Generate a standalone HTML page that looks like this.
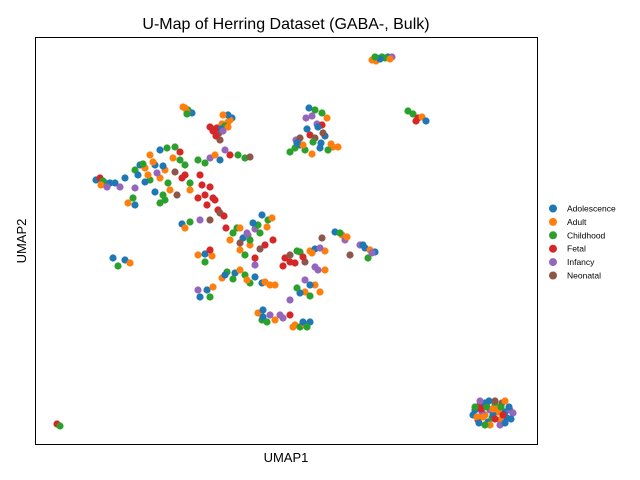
<!DOCTYPE html>
<html><head><meta charset="utf-8"><style>
body{margin:0;background:#fff;}
svg{display:block;font-family:"Liberation Sans","DejaVu Sans",sans-serif;}
</style></head><body>
<svg id="chart" width="640" height="480" viewBox="0 0 640 480">
<rect x="0" y="0" width="640" height="480" fill="#fff"/>
<text x="286" y="29" font-size="16" text-anchor="middle" fill="#000">U-Map of Herring Dataset (GABA-, Bulk)</text>
<g id="points"></g>
<rect x="35.5" y="37.5" width="502" height="407" fill="none" stroke="#000" stroke-width="1"/>
<text x="286" y="462" font-size="13" text-anchor="middle">UMAP1</text>
<text x="26" y="241" font-size="13" text-anchor="middle" transform="rotate(-90 26 241)">UMAP2</text>
<g id="legend"></g>
</svg>
<script>
const categories=["Adolescence","Adult","Childhood","Fetal","Infancy","Neonatal"];
const colors=["#1f77b4","#ff7f0e","#2ca02c","#d62728","#9467bd","#8c564b"];
// points: [umap1, umap2, categoryIndex]
const points=[
[337,385,1],[342,387,0],[347,388,2],[353,388,0],[357,388,4],[341,384,1],[350,387,2],[345,386,0],[340,388,2],[355,386,1],
[373,334,2],[378,331,2],[383,327,3],[387,328,1],[391,324,0],[381,324,3],
[148,338,1],[153,335,2],[157,332,0],[150,337,1],[175,318,3],[182,317,3],[187,321,1],[193,323,1],[197,327,0],[190,319,2],[195,325,1],[184,312,5],[185,305,5],[181,309,3],
[152,333,1],[193,330,0],[188,330,1],[178,314,3],[186,316,0],[152,331,2],[180,316,3],[193,318,1],[188,314,4],
[274,337,0],[280,335,2],[287,332,2],[292,327,1],[271,327,4],[282,321,4],[287,320,3],[275,310,3],[261,305,4],[265,307,5],[280,307,5],[290,309,0],[260,297,2],[270,295,2],[277,291,1],[285,297,0],[298,298,1],[303,298,1],[293,295,2],[255,293,2],[265,300,0],
[277,329,4],[283,318,0],[272,316,0],[268,300,1],[286,302,0],[296,301,1],[278,303,2],[262,302,0],[288,312,5],
[115,290,1],[125,295,0],[132,297,2],[140,298,2],[145,293,3],[105,280,0],[100,275,2],[110,277,1],[120,280,0],[130,275,1],[140,273,5],[147,267,3],[155,262,2],[115,265,2],[125,267,1],[110,263,0],[100,257,4],[135,255,1],[142,250,5],[130,245,2],[125,242,2],[150,280,2],
[108,281,2],[118,283,1],[128,279,0],[138,287,1],[145,285,2],[122,272,4],[103,270,0],[113,270,1],[133,262,2],[150,270,3],[155,255,1],[120,253,0],[128,250,2],
[163,285,2],[170,282,2],[175,287,4],[185,285,0],[195,290,3],[203,290,2],[210,287,2],[215,288,5],[180,290,1],[190,295,4],
[61,265,0],[65,267,3],[70,262,0],[75,262,0],[80,262,0],[90,267,0],[93,242,1],[98,247,2],[85,258,4],[68,264,2],[66,260,1],[72,258,4],[100,240,0],
[165,270,3],[175,258,3],[178,247,3],[183,235,3],[185,232,5],[189,229,3],[191,217,3],[163,247,3],[170,250,3],[167,260,3],[172,240,3],[180,245,3],
[147,221,0],[155,223,2],[165,225,4],[175,225,5],[150,217,1],
[202,217,2],[208,207,0],[195,205,1],[213,210,4],[220,216,4],[227,230,0],[233,225,2],[237,227,1],[223,220,2],[215,200,1],[210,190,2],[220,187,3],[230,200,3],[205,202,5],
[205,217,1],[218,222,0],[225,212,2],[212,212,4],[232,218,1],[198,212,2],[215,205,2],[205,195,1],[225,196,5],[238,205,3],
[163,190,1],[170,191,0],[177,189,1],[170,183,2],[175,195,3],
[78,187,0],[83,179,2],[90,185,0],[95,182,1],
[187,167,1],[192,173,2],[200,172,0],[205,175,1],[210,170,2],[215,162,2],[227,162,0],[235,160,1],[240,160,1],[220,180,4],
[190,170,0],[198,166,2],[212,165,1],[220,168,0],[230,163,1],
[163,155,4],[165,148,0],[172,155,0],[178,158,1],[175,148,2],
[250,187,3],[255,190,5],[265,193,2],[275,194,1],[280,196,0],[290,194,1],[248,179,3],[260,182,3],[270,183,5],[283,175,4],[290,175,1],[280,160,1],[270,153,1],[275,149,2],[255,145,4],[265,152,0],
[262,194,2],[277,192,1],[285,197,4],[255,183,3],[268,188,3],[280,178,4],[262,157,2],[275,160,0],[285,153,1],[270,165,4],
[300,213,0],[307,210,1],[310,205,4],[315,190,5],[325,200,4],[330,197,0],[335,195,1],[340,193,0],[333,187,2],[287,207,5],
[305,212,2],[312,208,1],[328,200,0],[337,192,4],
[223,132,1],[228,135,0],[235,130,4],[240,125,1],[227,125,2],[248,127,4],[260,120,1],[265,118,2],[270,120,1],[275,123,0],[255,130,3],
[228,128,0],[232,123,2],[245,130,4],[258,118,1],[268,123,0],[272,118,2],
[440,35,0],[445,40,3],[450,30,1],[455,35,4],[460,40,2],[465,25,1],[470,33,0],[475,35,4],[443,25,3],[453,23,0],[463,33,1],[457,27,2],[450,42,0],[467,42,5],[472,27,0],[447,33,4],
[438,30,0],[442,28,1],[446,36,3],[452,38,2],[458,30,0],[462,36,1],[468,30,3],[474,38,0],[478,32,4],[444,22,0],[455,20,1],[465,20,4],[470,22,0],[448,28,1],[460,26,3],[466,38,2],[454,44,0],[460,44,5],[440,38,2],[476,26,0],[450,20,2],[470,44,1],[445,44,4],[458,36,1],
[22,21,3],[25,19,2]
];
const legendSpacing=13.4;
const X0=35,X1=538,Y0=445,Y1=37;
const xMin=0,xMax=503,yMin=0,yMax=408;
function xScale(v){return X0+(v-xMin)/(xMax-xMin)*(X1-X0);}
function yScale(v){return Y0-(v-yMin)/(yMax-yMin)*(Y0-Y1);}
const NS="http://www.w3.org/2000/svg";
const g=document.getElementById('points');
points.forEach((p,i)=>{
  const c=document.createElementNS(NS,'circle');
  c.setAttribute('cx',xScale(p[0]));c.setAttribute('cy',yScale(p[1]));
  c.setAttribute('r',3.6);c.setAttribute('fill',colors[p[2]]);
  
  
  g.appendChild(c);
});
const lg=document.getElementById('legend');
categories.forEach((cat,i)=>{
  const y=208.5+i*legendSpacing;
  const e=document.createElementNS(NS,'g');
  
  
  const c=document.createElementNS(NS,'circle');
  c.setAttribute('cx',553);c.setAttribute('cy',y);c.setAttribute('r',4);c.setAttribute('fill',colors[i]);
  e.appendChild(c);
  const t=document.createElementNS(NS,'text');
  t.setAttribute('x',567);t.setAttribute('y',y+3);t.setAttribute('font-size','8.5');
  t.textContent=cat;e.appendChild(t);
  lg.appendChild(e);
});
</script>
</body></html>
